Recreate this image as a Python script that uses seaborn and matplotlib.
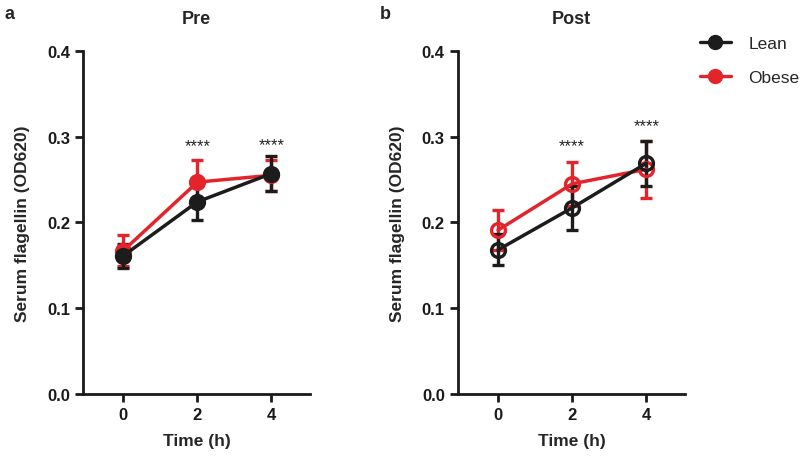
import numpy as np
import pandas as pd
import matplotlib
matplotlib.use("Agg")
import matplotlib.pyplot as plt
import seaborn as sns
from matplotlib.lines import Line2D

sns.set_style("ticks")
plt.rcParams['font.family'] = ['Liberation Sans', 'DejaVu Sans']
plt.rcParams['font.weight'] = 'bold'

# dados
time_h = [0, 2, 4]
groups = ['Lean', 'Obese']
pre_lean = [0.161, 0.224, 0.257]
pre_lean_err = [0.014, 0.021, 0.020]
pre_obese = [0.167, 0.247, 0.255]
pre_obese_err = [0.018, 0.026, 0.018]
post_lean = [0.168, 0.217, 0.269]
post_lean_err = [0.018, 0.026, 0.026]
post_obese = [0.191, 0.245, 0.262]
post_obese_err = [0.023, 0.026, 0.033]
star_y_pre = [0.281, 0.282]
star_y_post = [0.281, 0.304]
star_x = [2, 4]

cores = {'Lean': '#1c1c1c', 'Obese': '#e3242b'}

fig = plt.figure(figsize=(8, 4.64), dpi=100)
ax1 = fig.add_axes([0.104, 0.149, 0.284, 0.739])
ax2 = fig.add_axes([0.5725, 0.149, 0.284, 0.739])


def painel(ax, lean, lean_err, obese, obese_err, star_y, titulo, letra, aberto):
    df = pd.DataFrame({
        'time': time_h * 2,
        'value': lean + obese,
        'err': lean_err + obese_err,
        'group': ['Lean'] * 3 + ['Obese'] * 3,
    })
    # Obese primeiro para Lean ficar por cima
    for g in ['Obese', 'Lean']:
        d = df[df['group'] == g]
        ax.errorbar(d['time'], d['value'], yerr=d['err'], fmt='none',
                    ecolor=cores[g], elinewidth=2.4, capsize=4.5, capthick=2.4, zorder=3)
        sns.lineplot(x='time', y='value', data=d, ax=ax, color=cores[g],
                     linewidth=2.5, marker='o', markersize=10,
                     markerfacecolor='none' if aberto else cores[g],
                     markeredgecolor=cores[g], markeredgewidth=2.4, zorder=4)
    for x, y in zip(star_x, star_y):
        ax.text(x, y, '****', ha='center', va='bottom', fontsize=12, fontweight='normal', color='#222222')
    ax.set_xlim(-1.08, 5.05)
    ax.set_ylim(0, 0.4)
    ax.set_xticks([0, 2, 4])
    ax.set_yticks([0.0, 0.1, 0.2, 0.3, 0.4])
    ax.set_yticklabels(['0.0', '0.1', '0.2', '0.3', '0.4'])
    ax.tick_params(width=2, length=6, labelsize=12, colors='#1a1a1a')
    for lab in ax.get_xticklabels() + ax.get_yticklabels():
        lab.set_fontweight('bold')
    for s in ['left', 'bottom']:
        ax.spines[s].set_linewidth(2)
        ax.spines[s].set_color('#1a1a1a')
    sns.despine(ax=ax)
    ax.set_xlabel('Time (h)', fontsize=12.5, fontweight='bold', labelpad=8)
    ax.set_ylabel('Serum flagellin (OD620)', fontsize=12.5, fontweight='bold', labelpad=12)
    ax.set_title(titulo, fontsize=13, fontweight='bold', pad=20)
    ax.text(-0.345, 1.108, letra, transform=ax.transAxes, fontsize=13, fontweight='bold', va='center')


painel(ax1, pre_lean, pre_lean_err, pre_obese, pre_obese_err, star_y_pre, 'Pre', 'a', False)
painel(ax2, post_lean, post_lean_err, post_obese, post_obese_err, star_y_post, 'Post', 'b', True)

handles = [Line2D([0], [0], color=cores[g], linewidth=2.4, marker='o', markersize=10) for g in groups]
leg = fig.legend(handles, groups, loc='upper left', bbox_to_anchor=(0.855, 0.955),
                 frameon=False, fontsize=12.5, handlelength=1.8, labelspacing=1.1, handletextpad=1.0)
for t in leg.get_texts():
    t.set_fontweight('normal')

fig.savefig('out.png', dpi=100)
